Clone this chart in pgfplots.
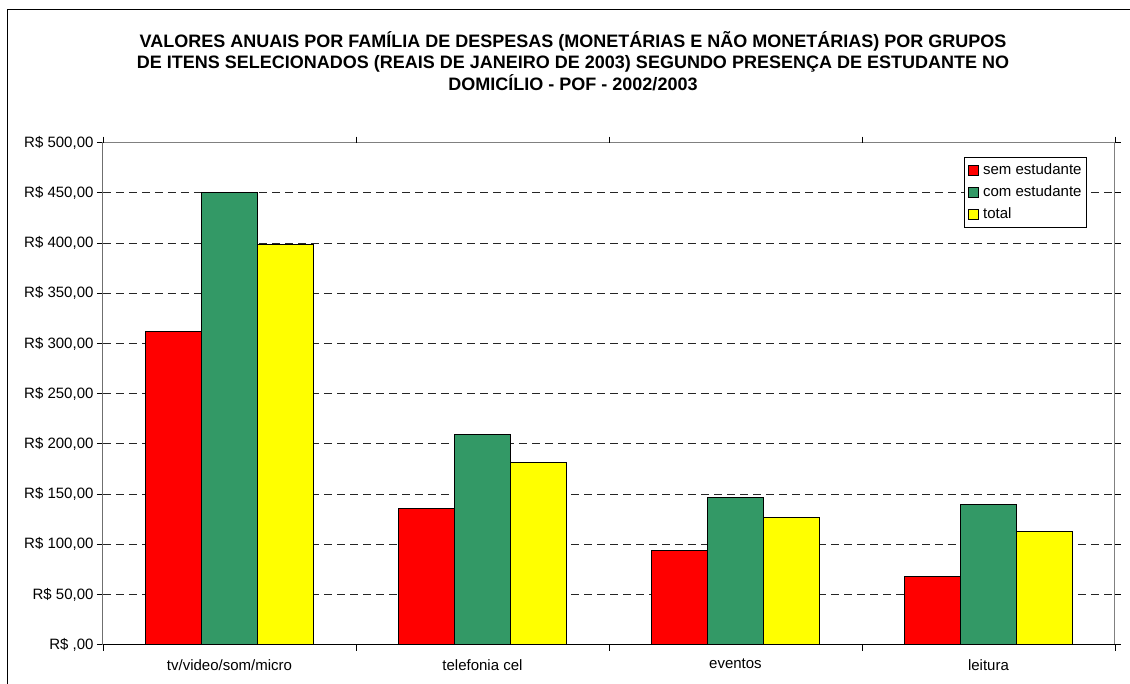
\documentclass[border=0pt]{standalone}
\usepackage{pgfplots}
\pgfplotsset{compat=1.18}
\usepackage{fontspec}
\setmainfont{Liberation Sans}
\definecolor{cred}{RGB}{255,0,0}
\definecolor{cgreen}{RGB}{51,153,102}
\definecolor{cyellow}{RGB}{255,255,0}
\begin{document}
\begin{tikzpicture}[x=1pt,y=1pt]
\begin{axis}[
  width=1012pt, height=502pt, scale only axis,
  ybar, bar width=0.2225,
  xmin=-0.5, xmax=3.5, ymin=0, ymax=500,
  xtick={0,1,2,3},
  xticklabels={tv/video/som/micro, telefonia cel, eventos, leitura},
  xtick style={draw=none},
  extra x ticks={-0.5,0.5,1.5,2.5,3.5},
  extra x tick labels={},
  extra x tick style={xtick style={draw=black, line width=0.8pt}, major tick length=6pt, tick align=outside},
  xticklabel style={yshift=-5pt},
  ytick={0,50,...,500},
  yticklabels={{R\$ ,00},{R\$ 50,00},{R\$ 100,00},{R\$ 150,00},{R\$ 200,00},{R\$ 250,00},{R\$ 300,00},{R\$ 350,00},{R\$ 400,00},{R\$ 450,00},{R\$ 500,00}},
  ytick style={draw=black, line width=0.8pt},
  tick align=outside, major tick length=6pt,
  ymajorgrids, grid style={black!85, dash pattern=on 8pt off 5pt, line width=0.8pt},
  axis line style={draw=gray, line width=1pt},
  ticklabel style={font=\fontsize{15}{18}\selectfont},
  legend style={at={(0.9723,0.9715)}, anchor=north east, draw=black, line width=0.8pt,
    font=\fontsize{15}{18}\selectfont, row sep=6pt, inner xsep=4pt, inner ysep=5pt,
    nodes={inner sep=1pt, text height=11pt, text depth=3pt},
    /tikz/every odd column/.append style={column sep=3pt}},
  legend cell align=left,
  legend image code/.code={\draw[#1, line width=0.8pt] (0pt,-5pt) rectangle (10pt,5pt);},
  every axis plot/.append style={draw=black, line width=1pt},
]
\addplot[fill=cred, bar shift=-0.2225] coordinates {(0,312.4) (1,135.9) (2,94.3) (3,68.4)};
\addplot[fill=cgreen, bar shift=0] coordinates {(0,450.2) (1,209.6) (2,146.4) (3,139.8)};
\addplot[fill=cyellow, bar shift=0.2225] coordinates {(0,398.1) (1,181.7) (2,126.9) (3,112.9)};
\legend{sem estudante, com estudante, total}
\draw[black, line width=1pt] (axis cs:-0.5,0) -- (axis cs:3.5,0);
\draw[black, line width=1pt] (axis cs:-0.5,0) -- (axis cs:-0.5,500);
\coordinate (O) at (rel axis cs:0,0);
\end{axis}
\pgfresetboundingbox
\begin{scope}[shift={(O)}]
\path[use as bounding box] (-103,644.7) rectangle (1027,-39.3);
\draw[line width=1pt] (-95,-39.3) -- (-95,634.7) -- (1027,634.7);
\begin{scope}[every node/.style={anchor=base, inner sep=0pt, font=\bfseries\fontsize{18}{21}\selectfont}]
\node at (470,597) {VALORES ANUAIS POR FAMÍLIA DE DESPESAS (MONETÁRIAS E NÃO MONETÁRIAS) POR GRUPOS};
\node at (470,575.9) {DE ITENS SELECIONADOS (REAIS DE JANEIRO DE 2003) SEGUNDO PRESENÇA DE ESTUDANTE NO};
\node at (470,554.4) {DOMICÍLIO - POF - 2002/2003};
\end{scope}
\end{scope}
\end{tikzpicture}
\end{document}
